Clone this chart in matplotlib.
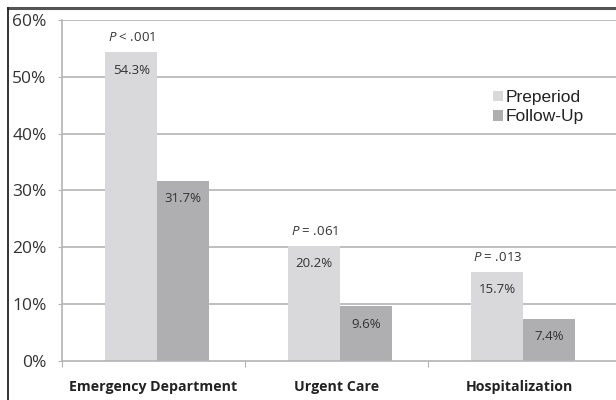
import matplotlib.pyplot as plt

plt.rcParams['mathtext.fontset'] = 'custom'
plt.rcParams['mathtext.it'] = 'Open Sans:italic'
plt.rcParams['mathtext.rm'] = 'Open Sans'

categories = ['Emergency Department', 'Urgent Care', 'Hospitalization']
preperiod = [54.3, 20.2, 15.7]
follow_up = [31.7, 9.6, 7.4]
p_values = ['$P$ < .001', '$P$ = .061', '$P$ = .013']
y_ticks = [0, 10, 20, 30, 40, 50, 60]

PRE_COLOR = '#d9d9db'
FOL_COLOR = '#afafb1'
TEXT = '#333333'
GRID = '#b4b4b4'

fig = plt.figure(figsize=(6.16, 4.0), dpi=100)
# outer frame (top and left edges visible)
fig.add_artist(plt.Line2D([8/616, 1.0], [1 - 8/400, 1 - 8/400], color='#555555', lw=2.2, transform=fig.transFigure))
fig.add_artist(plt.Line2D([8/616, 8/616], [0.0, 1 - 8/400], color='#222222', lw=1.3, transform=fig.transFigure))

ax = fig.add_axes([62/616, 39.3/400, 554/616, 340.7/400])
ax.set_xlim(-0.5, 2.527)
ax.set_ylim(0, 60)

w = 0.284
off = 0.02
xs = range(len(categories))
ax.bar([x + off - w/2 for x in xs], preperiod, width=w, color=PRE_COLOR, zorder=2, label='Preperiod')
ax.bar([x + off + w/2 for x in xs], follow_up, width=w, color=FOL_COLOR, zorder=2, label='Follow-Up')

for x, a, b, p in zip(xs, preperiod, follow_up, p_values):
    ax.text(x + off - w/2, a - 2.0, f'{a}%', ha='center', va='top', fontsize=9.5,
            family='Open Sans', color=TEXT, zorder=3)
    ax.text(x + off + w/2, b - 2.0, f'{b}%', ha='center', va='top', fontsize=9.5,
            family='Open Sans', color=TEXT, zorder=3)
    ax.text(x + off - w/2, a + 1.4, p, ha='center', va='bottom', fontsize=9.5,
            family='Open Sans', color=TEXT, zorder=3)

for y in y_ticks[1:]:
    ax.axhline(y, color=GRID, lw=1.2, zorder=1)

for s in ['top', 'right']:
    ax.spines[s].set_visible(False)
ax.spines['left'].set_color(GRID)
ax.spines['bottom'].set_color(GRID)
ax.spines['left'].set_linewidth(1.2)
ax.spines['bottom'].set_linewidth(1.2)

ax.set_yticks(y_ticks)
ax.set_yticklabels([f'{t}%' for t in y_ticks], family='Open Sans', fontsize=12.5, color=TEXT)
ax.tick_params(axis='y', length=3, color=GRID, pad=8)

ax.set_xticks([-0.5, 0.5, 1.5], minor=False)
ax.set_xticklabels([])
ax.tick_params(axis='x', length=4, color=GRID)
ax.set_xticks(list(xs), minor=True)
ax.set_xticklabels(categories, minor=True, family='Open Sans', fontweight='bold', fontsize=10.2, color='#222222')
ax.tick_params(axis='x', which='minor', length=0, pad=14)

leg = ax.legend(loc='upper left', bbox_to_anchor=(0.75, 0.84), frameon=False,
                prop={'family': 'Liberation Sans', 'size': 12.5},
                handlelength=0.55, handleheight=0.55, handletextpad=0.15, labelspacing=0.25)
for t in leg.get_texts():
    t.set_color('#222222')

fig.savefig('out.png', dpi=100)
